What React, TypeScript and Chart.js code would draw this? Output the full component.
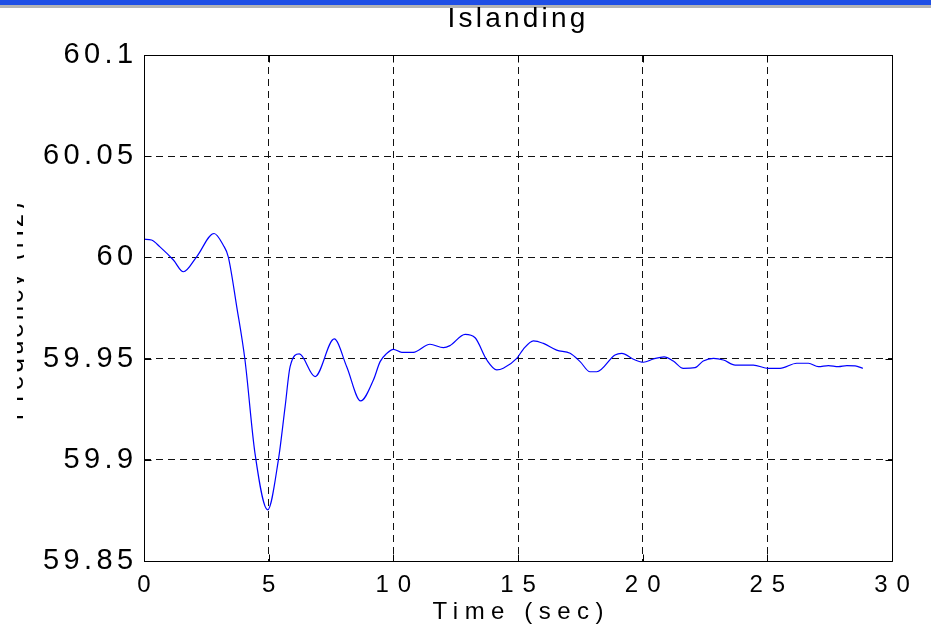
import React, { useEffect, useRef } from "react";
import { Chart, registerables } from "chart.js";

Chart.register(...registerables);

const TITLE = "Islanding";
const X_LABEL = "Time (sec)";
const Y_LABEL = "Frequency (Hz)";

const TIME = [
  0, 0.3, 0.64, 1.18, 1.58, 2.11, 2.81, 3.18, 3.38, 3.72,
  4.05, 4.45, 4.96, 5.39, 5.66, 5.86, 6.23, 6.86, 7.63, 8.13,
  8.69, 9.2, 9.47, 9.74, 10.0, 10.34, 10.8, 11.47, 12.01, 12.27,
  12.88, 13.28, 13.75, 14.15, 14.41, 14.95, 15.21, 15.62, 16.02, 16.55,
  17.09, 17.49, 17.89, 18.16, 18.89, 19.16, 19.63, 20.03, 20.43, 20.86,
  21.23, 21.63, 22.1, 22.43, 22.84, 23.24, 23.71, 24.44, 25.04, 25.51,
  26.18, 26.65, 27.05, 27.45, 27.85, 28.19, 28.52, 28.83,
];

const FREQ = [
  60.009, 60.0086, 60.0052, 59.9987, 59.9929, 60.0003, 60.0118, 60.006, 60.0003, 59.9756,
  59.9493, 59.9033, 59.8753, 59.9, 59.9263, 59.946, 59.9523, 59.9411, 59.9597, 59.946,
  59.9291, 59.9394, 59.9485, 59.9526, 59.9546, 59.9531, 59.9531, 59.9571, 59.9554, 59.9564,
  59.962, 59.9603, 59.9493, 59.9444, 59.9452, 59.9501, 59.9546, 59.9588, 59.9575, 59.9542,
  59.9526, 59.9485, 59.9435, 59.9435, 59.9518, 59.9526, 59.9497, 59.9482, 59.9498, 59.9509,
  59.9488, 59.9452, 59.9455, 59.9488, 59.9501, 59.9493, 59.9468, 59.9468, 59.9452, 59.9452,
  59.9477, 59.9477, 59.946, 59.9465, 59.946, 59.9465, 59.9464, 59.9452,
];

const X_TICKS = [0, 5, 10, 15, 20, 25, 30];
const Y_TICKS = [59.85, 59.9, 59.95, 60, 60.05, 60.1];

const FONT = "'Liberation Sans', Arial, Helvetica, sans-serif";
const X_SPACING = 9;
const Y_SPACING = 4.4;

const decorPlugin = {
  id: "decor",
  beforeDraw(chart: any) {
    const ctx = chart.ctx;
    ["x", "y"].forEach((id) => {
      const s: any = chart.scales[id];
      if (s && !s.__wrapped) {
        const origLabels = s.drawLabels;
        const origTitle = s.drawTitle;
        const sp = id === "x" ? X_SPACING : Y_SPACING;
        s.drawLabels = function (area: any) {
          const c = this.ctx;
          c.save();
          c.letterSpacing = sp + "px";
          if (id === "x") c.translate(sp / 2, 0);
          origLabels.call(this, area);
          c.restore();
        };
        s.drawTitle = function () {
          const c = this.ctx;
          c.save();
          c.letterSpacing = "6.5px";
          c.translate(3.25, 0);
          origTitle.call(this);
          c.restore();
        };
        s.__wrapped = true;
      }
    });
    ctx.save();
    ctx.fillStyle = "#1f4fe6";
    ctx.fillRect(0, 0, chart.width, 5);
    ctx.fillStyle = "#b4b4b4";
    ctx.fillRect(0, 5, chart.width, 3);
    ctx.restore();
    ctx.letterSpacing = "3.2px";
  },
  afterDraw(chart: any) {
    const ctx = chart.ctx;
    const { left, right, top, bottom } = chart.chartArea;
    const xs = chart.scales.x;
    const ys = chart.scales.y;
    ctx.save();
    ctx.letterSpacing = "0px";
    ctx.strokeStyle = "#000";
    ctx.lineWidth = 1;
    ctx.beginPath();
    const L = Math.round(left) + 0.5;
    const R = Math.round(right) + 0.5;
    const T = Math.round(top) + 0.5;
    const B = Math.round(bottom) + 0.5;
    ctx.rect(L, T, R - L, B - T);
    const tl = 7;
    xs.ticks.forEach((t: any) => {
      const px = Math.round(xs.getPixelForValue(t.value)) + 0.5;
      ctx.moveTo(px, B);
      ctx.lineTo(px, B - tl);
      ctx.moveTo(px, T);
      ctx.lineTo(px, T + tl);
    });
    ys.ticks.forEach((t: any) => {
      const py = Math.round(ys.getPixelForValue(t.value)) + 0.5;
      ctx.moveTo(L, py);
      ctx.lineTo(L + tl, py);
      ctx.moveTo(R, py);
      ctx.lineTo(R - tl, py);
    });
    ctx.stroke();
    ctx.restore();

    // partially hidden y-axis title
    ctx.save();
    ctx.beginPath();
    ctx.rect(17, 0, 7, chart.height);
    ctx.clip();
    ctx.translate(23, 310);
    ctx.rotate(-Math.PI / 2);
    ctx.font = "26px " + FONT;
    ctx.letterSpacing = "3px";
    ctx.fillStyle = "#000";
    ctx.textAlign = "center";
    ctx.textBaseline = "alphabetic";
    ctx.fillText(Y_LABEL, 0, 0);
    ctx.restore();
  },
};

export default function App() {
  const canvasRef = useRef<HTMLCanvasElement | null>(null);

  useEffect(() => {
    const canvas = canvasRef.current;
    if (!canvas) return;
    const chart = new Chart(canvas, {
      type: "line",
      data: {
        datasets: [
          {
            label: "Frequency",
            data: TIME.map((t, i) => ({ x: t, y: FREQ[i] })),
            borderColor: "#0000ff",
            borderWidth: 1.2,
            pointRadius: 0,
            fill: false,
            cubicInterpolationMode: "monotone",
          },
        ],
      },
      options: {
        responsive: false,
        animation: false,
        devicePixelRatio: 1,
        layout: { padding: { left: 0, right: 39, top: 0, bottom: 0 } },
        plugins: {
          legend: { display: false },
          tooltip: { enabled: false },
          title: {
            display: true,
            text: TITLE,
            fullSize: false,
            color: "#000",
            font: { family: FONT, size: 28, weight: "normal" },
            padding: { top: 2.4, bottom: 19 },
          },
        },
        scales: {
          x: {
            type: "linear",
            min: 0,
            max: 30,
            afterBuildTicks: (s: any) => {
              s.ticks = X_TICKS.map((v) => ({ value: v }));
            },
            afterFit: (s: any) => {
              s.height = 76;
            },
            ticks: {
              color: "#000",
              font: { family: FONT, size: 24 },
              padding: 10,
              maxRotation: 0,
              autoSkip: false,
              callback: (v: any) => String(v),
            },
            grid: {
              color: "#111",
              lineWidth: 1,
              drawTicks: false,
            },
            border: { display: false, dash: [7, 5] },
            title: {
              display: true,
              text: X_LABEL,
              color: "#000",
              font: { family: FONT, size: 24 },
              padding: { top: 0, bottom: 10 },
            },
          },
          y: {
            type: "linear",
            min: 59.85,
            max: 60.1,
            afterBuildTicks: (s: any) => {
              s.ticks = Y_TICKS.map((v) => ({ value: v }));
            },
            afterFit: (s: any) => {
              s.width = 144;
            },
            ticks: {
              color: "#000",
              font: { family: FONT, size: 29 },
              padding: 6.5,
              autoSkip: false,
              callback: (v: any) => String(Number(Number(v).toFixed(2))),
            },
            grid: {
              color: "#111",
              lineWidth: 1,
              drawTicks: false,
            },
            border: { display: false, dash: [7, 5] },
          },
        },
      },
      plugins: [decorPlugin],
    } as any);
    return () => chart.destroy();
  }, []);

  return (
    <div style={{ position: "absolute", left: 0, top: 0, width: 931, height: 637, background: "#fff" }}>
      <canvas ref={canvasRef} width={931} height={637} style={{ display: "block" }} />
    </div>
  );
}
